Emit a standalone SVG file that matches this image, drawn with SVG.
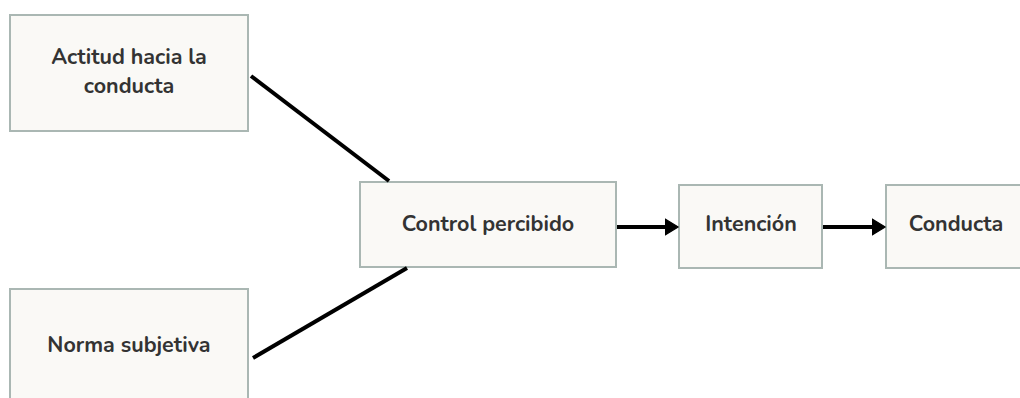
<svg xmlns="http://www.w3.org/2000/svg" width="1020" height="398" viewBox="0 0 1020 398">
<defs>
<style>
.box{fill:#faf9f6;stroke:#aab7b3;stroke-width:2}
.t{font-family:"Nunito","Noto Sans","Liberation Sans",sans-serif;font-weight:700;font-size:21.5px;fill:#333333;text-anchor:middle}
.c{stroke:#000;stroke-width:4;fill:none}
</style>
<marker id="ah" markerWidth="5" markerHeight="6" refX="0.1" refY="3" orient="auto" markerUnits="strokeWidth">
<path d="M0,0.95 L3.4,3 L0,5.05 Z" fill="#000" stroke="#000" stroke-width="0.3" stroke-linejoin="round"/>
</marker>
</defs>
<rect width="1020" height="398" fill="#ffffff"/>
<g id="actitud"><rect class="box" x="10" y="15" width="238" height="116"/><text class="t" x="129" y="64">Actitud hacia la</text><text class="t" x="129" y="93">conducta</text></g>
<g id="norma"><rect class="box" x="10" y="289" width="238" height="130"/><text class="t" x="129" y="352">Norma subjetiva</text></g>
<g id="control"><rect class="box" x="360" y="182" width="256" height="85"/><text class="t" x="488" y="231">Control percibido</text></g>
<g id="intencion"><rect class="box" x="679" y="185" width="143" height="83"/><text class="t" x="751" y="231">Intención</text></g>
<g id="conducta"><rect class="box" x="886" y="185" width="150" height="83"/><text class="t" x="956" y="231">Conducta</text></g>
<g id="connectors">
<line class="c" x1="251" y1="76" x2="389" y2="181"/>
<line class="c" x1="407" y1="268" x2="253" y2="358"/>
<line class="c" x1="617" y1="227" x2="665" y2="227" marker-end="url(#ah)"/>
<line class="c" x1="823" y1="227" x2="872" y2="227" marker-end="url(#ah)"/>
</g>
</svg>
